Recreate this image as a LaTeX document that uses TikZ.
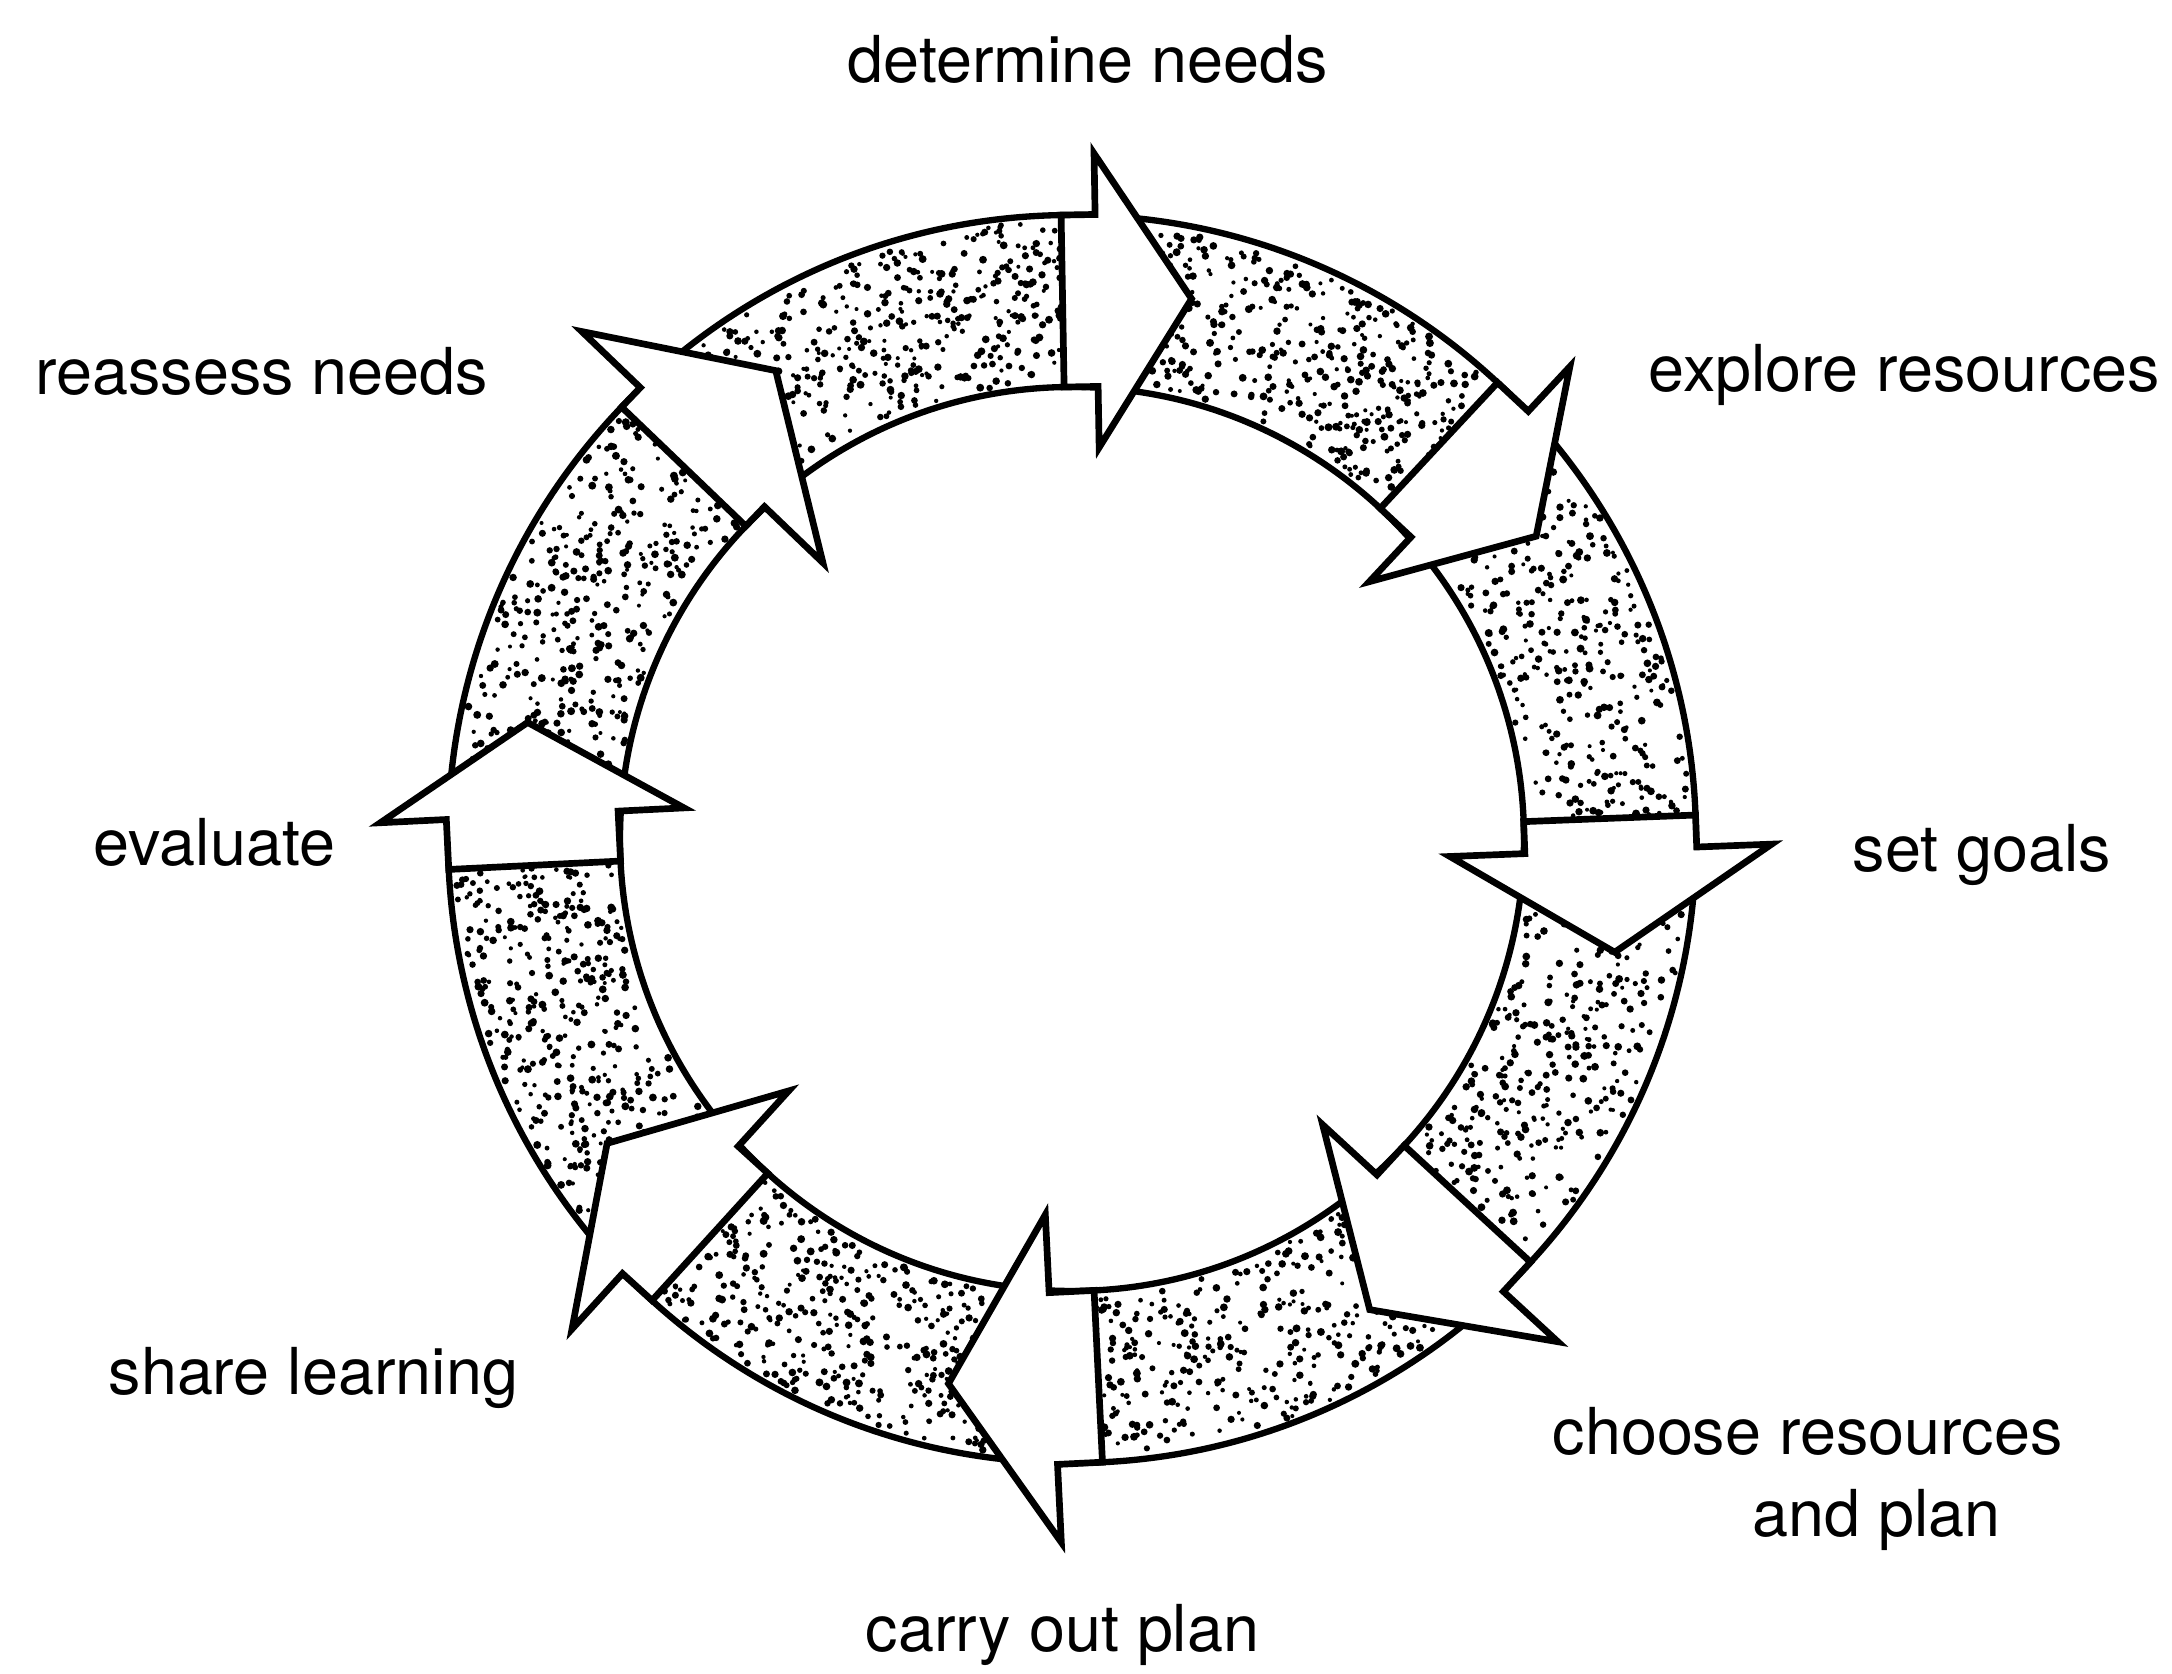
\documentclass[tikz,border=0pt]{standalone}
\usepackage{fontspec}
\setmainfont{TeX Gyre Heros}
\begin{document}
\begin{tikzpicture}[
        x=0.01cm, y=0.01cm,
        ring/.style = {line width=1.8pt},
        arr/.style = {draw, fill=white, line width=1.9pt, line join=miter},
        speck/.style = {fill=black},
        lab/.style = {anchor=base west, inner sep=0pt, font=\fontsize{18.4}{22}\selectfont}
    ]
    \useasboundingbox (-1072,-835) rectangle (1100,839);
    \coordinate (c) at (0,0);
    %--- Draw Stipple ---%
        \pgfmathsetseed{7}
        \foreach \i in {1,...,3600}{
            \pgfmathsetmacro{\angl}{360*rnd}
            \pgfmathsetmacro{\radi}{100*sqrt(4.58^2+rnd*(6.18^2-4.58^2))}
            \pgfmathsetmacro{\sz}{2+2*rnd}
            \fill[speck] (\angl:\radi) circle (\sz);
        }
    %--- Draw Ring ---%
        \draw[ring] (c) circle (624);
        \draw[ring] (c) circle (452);
    %--- Draw Arrows ---%
        \foreach \a/\s/\h/\w in {91/34/95/147, 47/42/91/147, 2.2/32/102/161,
                -42.7/40/104/160, -87.2/45/105/164, -132.3/40/99/161,
                182.8/50/93/152, 136.2/27/106/167}{
            \begin{scope}[rotate=\a-90]
                \draw[arr] (0,452) -- (0,624) -- (\s,624) -- (\s,{538+\w})
                    -- ({\s+\h},538) -- (\s,{538-\w}) -- (\s,452) -- cycle;
            \end{scope}
        }
    %--- Draw Labels ---%
        \node (need) [lab] at (-225,756) {determine needs};
        \node (explore) [lab] at (576,447) {explore resources};
        \node (goals) [lab] at (780,-33) {set goals};
        \node (choose) [lab] at (480,-616) {choose resources};
        \node (andplan) [lab] at (680,-698) {and plan};
        \node (carry) [lab] at (-207,-813) {carry out plan};
        \node (share) [lab] at (-964,-556) {share learning};
        \node (eval) [lab] at (-979,-27) {evaluate};
        \node (reassess) [lab] at (-1037,444) {reassess needs};
\end{tikzpicture}
\end{document}
